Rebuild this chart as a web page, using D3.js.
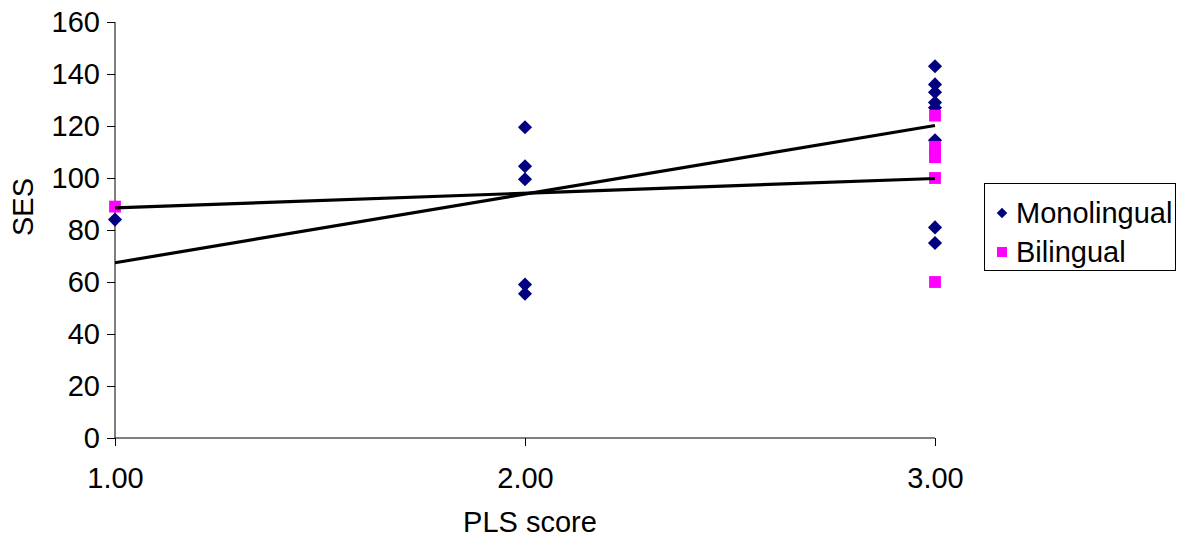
<!DOCTYPE html>
<html>
<head>
<meta charset="utf-8">
<script src="https://cdn.jsdelivr.net/npm/d3@7"></script>
<style>
html,body{margin:0;padding:0;background:#fff;}
svg{display:block;font-family:"Liberation Sans",Arial,sans-serif;}
</style>
</head>
<body>
<svg id="chart" width="1184" height="538"></svg>
<script>
// Data
const monoX = [1, 2, 2, 2, 2, 2, 3, 3, 3, 3, 3, 3, 3, 3];
const monoY = [84, 119.5, 104.5, 99.5, 59, 55.5, 143, 136, 133, 129, 127, 114.5, 81, 75];
const biX = [1, 3, 3, 3, 3, 3, 3];
const biY = [89, 124, 112, 110, 108, 100, 60];
const trendX = [1, 3];
const trendMono = [67.4, 120.2];
const trendBi = [88.5, 99.8];
const yTicks = [0, 20, 40, 60, 80, 100, 120, 140, 160];
const xTicks = [1, 2, 3];
const seriesNames = ["Monolingual", "Bilingual"];
const seriesColors = ["#000080", "#FF00FF"];

const FS = 29;
const svg = d3.select("#chart");
const x = d3.scaleLinear().domain([1, 3]).range([115, 935]);
const y = d3.scaleLinear().domain([0, 160]).range([438, 22]);

// Y axis
const yAxis = svg.append("g").attr("transform", "translate(115,0)")
  .call(d3.axisLeft(y).tickValues(yTicks).tickSize(8).tickPadding(7).tickFormat(d3.format("d")));
yAxis.select(".domain").attr("d", "M0,22V438").attr("stroke", "#000").attr("stroke-width", 1);
yAxis.selectAll(".tick line").attr("stroke", "#000");
yAxis.selectAll("text").attr("font-size", FS).attr("fill", "#000")
  .attr("font-family", "'Liberation Sans',Arial,sans-serif");

// X axis
const xAxis = svg.append("g").attr("transform", "translate(0,438)")
  .call(d3.axisBottom(x).tickValues(xTicks).tickSize(8).tickPadding(21).tickFormat(d3.format(".2f")));
xAxis.select(".domain").attr("d", "M115,0H935").attr("stroke", "#000").attr("stroke-width", 1);
xAxis.selectAll(".tick line").attr("stroke", "#000");
xAxis.selectAll("text").attr("font-size", FS).attr("fill", "#000")
  .attr("font-family", "'Liberation Sans',Arial,sans-serif");

// Axis titles
svg.append("text").attr("x", 530).attr("y", 532).attr("text-anchor", "middle")
  .attr("font-size", FS).text("PLS score");
svg.append("text").attr("transform", "translate(33,207) rotate(-90)").attr("text-anchor", "middle")
  .attr("font-size", FS).text("SES");

// Markers
const diamond = d3.symbol().type(d3.symbolSquare).size(100)();
const square = d3.symbol().type(d3.symbolSquare).size(140)();

svg.append("g").selectAll("path").data(monoY.map((v, i) => [monoX[i], v])).join("path")
  .attr("d", diamond)
  .attr("transform", d => `translate(${x(d[0])},${y(d[1])}) rotate(45)`)
  .attr("fill", seriesColors[0]);

svg.append("g").selectAll("path").data(biY.map((v, i) => [biX[i], v])).join("path")
  .attr("d", square)
  .attr("transform", d => `translate(${x(d[0])},${y(d[1])})`)
  .attr("fill", seriesColors[1]);

// Trend lines
const line = d3.line().x(d => x(d[0])).y(d => y(d[1]));
[trendMono, trendBi].forEach(t => {
  svg.append("path").datum(trendX.map((v, i) => [v, t[i]]))
    .attr("d", line).attr("fill", "none").attr("stroke", "#000").attr("stroke-width", 3.2);
});

// Legend
const lg = svg.append("g");
lg.append("rect").attr("x", 984.5).attr("y", 183.5).attr("width", 191).attr("height", 87)
  .attr("fill", "#fff").attr("stroke", "#000").attr("stroke-width", 1);
const legY = [213, 252];
lg.append("path").attr("d", d3.symbol().type(d3.symbolSquare).size(55)())
  .attr("transform", `translate(1002,${legY[0]}) rotate(45)`).attr("fill", seriesColors[0]);
lg.append("path").attr("d", d3.symbol().type(d3.symbolSquare).size(100)())
  .attr("transform", `translate(1002,${legY[1]})`).attr("fill", seriesColors[1]);
seriesNames.forEach((n, i) => {
  lg.append("text").attr("x", 1016).attr("y", legY[i] + 10).attr("font-size", FS).text(n);
});
</script>
</body>
</html>
